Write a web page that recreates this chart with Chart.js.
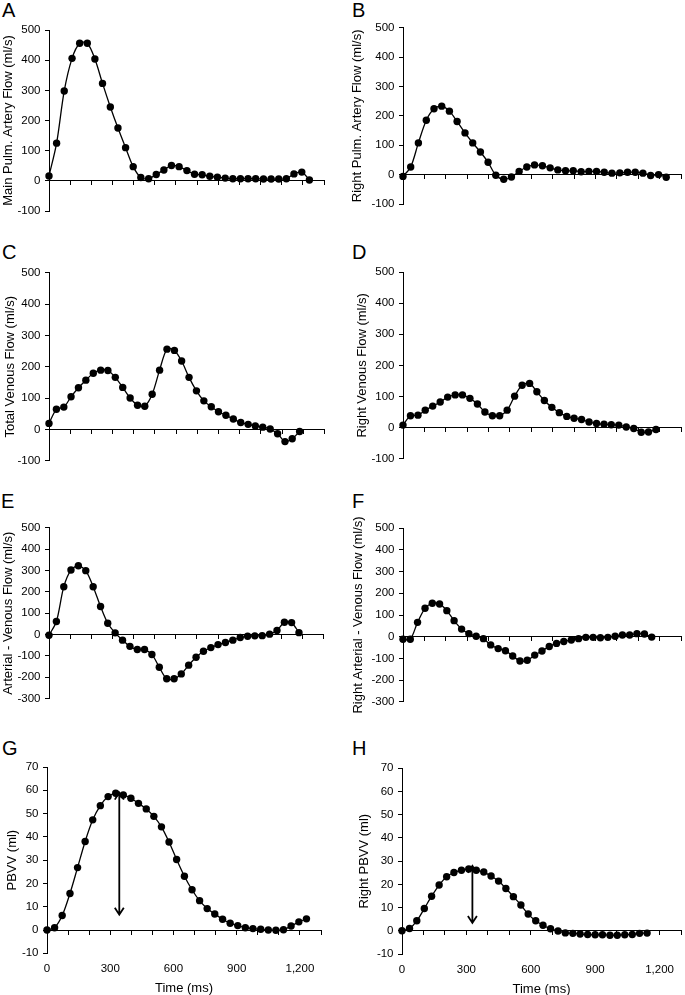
<!DOCTYPE html>
<html>
<head>
<meta charset="utf-8">
<script src="https://cdn.jsdelivr.net/npm/chart.js@4.4.1/dist/chart.umd.min.js"></script>
<style>
  body { margin: 0; width: 685px; height: 995px; overflow: hidden; background: #fff; position: relative; font-family: "Liberation Sans", Arial, sans-serif; }
  canvas { position: absolute; }
  .tag { position: absolute; font-size: 20px; line-height: 20px; color: #000; }
</style>
</head>
<body>
<div class="tag" style="left:2px;top:0px">A</div>
<div class="tag" style="left:352px;top:0px">B</div>
<div class="tag" style="left:2px;top:242px">C</div>
<div class="tag" style="left:352px;top:242px">D</div>
<div class="tag" style="left:1px;top:491px">E</div>
<div class="tag" style="left:352px;top:491px">F</div>
<div class="tag" style="left:2px;top:738px">G</div>
<div class="tag" style="left:352px;top:738px">H</div>

<canvas id="chartA"></canvas>
<canvas id="chartB"></canvas>
<canvas id="chartC"></canvas>
<canvas id="chartD"></canvas>
<canvas id="chartE"></canvas>
<canvas id="chartF"></canvas>
<canvas id="chartG"></canvas>
<canvas id="chartH"></canvas>

<script>
// sample times (ms)
const timeLong = [0, 36, 72, 109, 145, 181, 217, 253, 290, 326, 362, 398, 434, 471, 507, 543, 579, 615, 652, 688, 724, 760, 796, 833, 869, 905, 941, 977, 1014, 1050, 1086, 1122, 1158, 1195, 1231]
const timeMid = [0, 35, 70, 104, 139, 174, 209, 244, 278, 313, 348, 383, 418, 452, 487, 522, 557, 592, 626, 661, 696, 731, 766, 800, 835, 870, 905, 940, 974, 1009, 1044, 1079, 1114, 1148, 1183]
const timeF = [0, 34, 68, 103, 137, 171, 205, 239, 274, 308, 342, 376, 410, 445, 479, 513, 547, 581, 616, 650, 684, 718, 752, 787, 821, 855, 889, 923, 958, 992, 1026, 1060, 1094, 1129, 1163]
const timeH = [0, 35, 69, 104, 138, 173, 208, 242, 277, 311, 346, 381, 415, 450, 484, 519, 554, 588, 623, 657, 692, 727, 761, 796, 830, 865, 900, 934, 969, 1003, 1038, 1073, 1107, 1142]

// flows (ml/s)
const mainArteryFlow = [16, 125, 298, 406, 456, 456, 404, 323, 245, 175, 110, 47, 11, 7, 21, 36, 51, 47, 34, 22, 20, 15, 12, 9, 7, 7, 7, 7, 6, 6, 6, 7, 23, 29, 3]
const rightArteryFlow = [-6, 26, 108, 185, 224, 233, 216, 181, 142, 108, 77, 42, -2, -16, -8, 11, 26, 33, 30, 23, 16, 13, 13, 10, 11, 11, 8, 5, 6, 8, 8, 5, -3, 0, -9]
const totalVenousFlow = [19, 64, 71, 104, 133, 157, 179, 189, 188, 166, 134, 100, 77, 74, 112, 189, 256, 252, 218, 166, 123, 91, 72, 56, 45, 33, 22, 16, 11, 7, 1, -14, -39, -30, -7]
const rightVenousFlow = [8, 38, 40, 56, 69, 82, 98, 105, 105, 94, 76, 50, 38, 38, 56, 101, 136, 142, 115, 87, 65, 48, 36, 30, 26, 18, 13, 11, 9, 8, 2, -3, -15, -14, -6]
const arterialMinusVenous = [-3, 61, 224, 302, 322, 299, 224, 131, 53, 8, -26, -55, -70, -70, -93, -153, -207, -207, -184, -143, -106, -78, -61, -47, -37, -26, -14, -8, -6, -5, 2, 19, 58, 56, 9]
const rightArterialMinusVenous = [-12, -12, 66, 131, 154, 151, 120, 74, 35, 14, 2, -9, -38, -55, -65, -89, -112, -109, -85, -66, -45, -31, -22, -15, -9, -3, -3, -5, -3, 2, 8, 8, 14, 12, -2]

// volumes (ml)
const pbvv = [0, 1, 6.2, 15.7, 26.8, 38, 47.3, 53.4, 57.3, 58.7, 58, 56.6, 54.4, 52, 48.8, 44.3, 37.8, 30.3, 23.1, 17.3, 12.6, 9.2, 6.9, 4.6, 2.9, 1.9, 1, 0.6, 0.3, 0, -0.1, 0.1, 1.7, 3.5, 4.8]
const rightPbvv = [0, 1, 4.3, 9.6, 14.9, 19.7, 23.3, 25.1, 26.1, 26.6, 26.1, 25.3, 23.6, 21.4, 18.2, 14.7, 11.1, 7.2, 4.3, 2.4, 0.9, -0.1, -0.9, -1.1, -1.4, -1.6, -1.7, -1.7, -1.9, -1.9, -1.7, -1.6, -1.1, -1.0]

// axes
const flowRange = [-100, 500]
const diffRange = [-300, 500]
const volumeRange = [-10, 70]
const timeRange = [0, 1300]
const timeTickLabels = [0, 300, 600, 900, 1200]

// arrows: [time, from, to]
const arrowG = [343, 59, 6.6]
const arrowH = [328, 28, 3.4]

const FONT = '"Liberation Sans", Arial, sans-serif'

// double headed arrow drawn with the chart's scales
const arrowPlugin = {
  id: 'arrow',
  afterDatasetsDraw(chart, args, opts) {
    if (!opts.at) return
    const { ctx, scales } = chart
    const px = scales.x.getPixelForValue(opts.at[0])
    const top = scales.y.getPixelForValue(opts.at[1])
    const bot = scales.y.getPixelForValue(opts.at[2])
    ctx.save()
    ctx.strokeStyle = '#000'
    ctx.lineWidth = 1.8
    ctx.beginPath()
    ctx.moveTo(px, top); ctx.lineTo(px, bot)
    ctx.moveTo(px - 4.5, bot - 7); ctx.lineTo(px, bot); ctx.lineTo(px + 4.5, bot - 7)
    ctx.moveTo(px - 4.5, top + 7); ctx.lineTo(px, top); ctx.lineTo(px + 4.5, top + 7)
    ctx.stroke()
    ctx.restore()
  }
}

function makePanel(id, p) {
  const canvas = document.getElementById(id)
  canvas.width = p.box[2]
  canvas.height = p.box[3]
  canvas.style.left = p.box[0] + 'px'
  canvas.style.top = p.box[1] + 'px'

  const scales = {
    x: {
      type: 'linear',
      axis: 'x',
      position: { y: 0 },
      min: timeRange[0],
      max: timeRange[1],
      ticks: { display: false, stepSize: 100 },
      grid: { drawOnChartArea: false, drawTicks: true, tickLength: 4, color: '#000' },
      border: { display: true, color: '#000', width: 1 }
    },
    y: {
      min: p.range[0],
      max: p.range[1],
      ticks: { stepSize: p.step, padding: 4.5, color: '#000', font: { family: FONT, size: 11.5 } },
      grid: { drawOnChartArea: false, drawTicks: true, tickLength: 4, color: '#000' },
      border: { display: true, color: '#000', width: 1 },
      title: {
        display: true, text: p.title, color: '#000',
        font: { family: FONT, size: 13 }, padding: { top: p.titleOff, bottom: 0 }
      },
      afterFit: s => { s.width = p.axisW }
    }
  }

  if (p.timeLabels) {
    scales.x2 = {
      type: 'linear',
      axis: 'x',
      position: 'bottom',
      min: timeRange[0],
      max: timeRange[1],
      afterBuildTicks: s => { s.ticks = timeTickLabels.map(v => ({ value: v })) },
      ticks: {
        padding: 8.5, color: '#000', maxRotation: 0, autoSkip: false,
        font: { family: FONT, size: 11.5 },
        callback: v => v.toLocaleString('en-US')
      },
      grid: { display: false, drawTicks: false },
      border: { display: false },
      title: {
        display: true, text: 'Time (ms)', color: '#000',
        font: { family: FONT, size: 13 }, padding: { top: -3.5, bottom: 0 }
      }
    }
  }

  return new Chart(canvas, {
    type: 'line',
    data: {
      datasets: [{
        data: p.time.map((t, i) => ({ x: t, y: p.values[i] })),
        borderColor: '#000',
        borderWidth: 1.3,
        tension: 0.3,
        pointRadius: 3.7,
        pointBackgroundColor: '#000',
        pointBorderWidth: 0,
        clip: false
      }]
    },
    options: {
      responsive: false,
      animation: false,
      devicePixelRatio: 1,
      layout: { padding: p.pad },
      plugins: {
        legend: { display: false },
        tooltip: { enabled: false },
        arrow: { at: p.arrow || null }
      },
      scales
    },
    plugins: [arrowPlugin]
  })
}

makePanel('chartA', {
  box: [0, 0, 340, 235], pad: { left: 0, top: 30, right: 16, bottom: 24 }, axisW: 49, titleOff: 0.7,
  title: 'Main Pulm. Artery Flow (ml/s)', time: timeLong, values: mainArteryFlow, range: flowRange, step: 100
})
makePanel('chartB', {
  box: [340, 0, 345, 235], pad: { left: 0, top: 27.7, right: 1, bottom: 31 }, axisW: 63, titleOff: 9.2,
  title: 'Right Pulm. Artery Flow (ml/s)', time: timeLong, values: rightArteryFlow, range: flowRange, step: 100
})
makePanel('chartC', {
  box: [0, 240, 340, 245], pad: { left: 0, top: 32.7, right: 15.6, bottom: 24.3 }, axisW: 49, titleOff: 2.7,
  title: 'Total Venous Flow (ml/s)', time: timeMid, values: totalVenousFlow, range: flowRange, step: 100
})
makePanel('chartD', {
  box: [340, 240, 345, 245], pad: { left: 0, top: 32, right: 2.3, bottom: 26.3 }, axisW: 63, titleOff: 14.7,
  title: 'Right Venous Flow (ml/s)', time: timeMid, values: rightVenousFlow, range: flowRange, step: 100
})
makePanel('chartE', {
  box: [0, 485, 340, 235], pad: { left: 0, top: 42.7, right: 16.3, bottom: 21.3 }, axisW: 49, titleOff: 0.5,
  title: 'Arterial - Venous Flow (ml/s)', time: timeMid, values: arterialMinusVenous, range: diffRange, step: 100
})
makePanel('chartF', {
  box: [340, 485, 345, 235], pad: { left: 0, top: 43.3, right: 0.6, bottom: 18.3 }, axisW: 63, titleOff: 11,
  title: 'Right Arterial - Venous Flow (ml/s)', time: timeF, values: rightArterialMinusVenous, range: diffRange, step: 100
})
makePanel('chartG', {
  box: [0, 740, 340, 257], pad: { left: 0, top: 27, right: 19, bottom: 0.8 }, axisW: 47, titleOff: 4.7,
  title: 'PBVV (ml)', time: timeLong, values: pbvv, range: volumeRange, step: 10,
  timeLabels: true, arrow: arrowG
})
makePanel('chartH', {
  box: [340, 740, 345, 257], pad: { left: 0, top: 28.3, right: 1.6, bottom: 0.1 }, axisW: 62, titleOff: 16.7,
  title: 'Right PBVV (ml)', time: timeH, values: rightPbvv, range: volumeRange, step: 10,
  timeLabels: true, arrow: arrowH
})
</script>
</body>
</html>
